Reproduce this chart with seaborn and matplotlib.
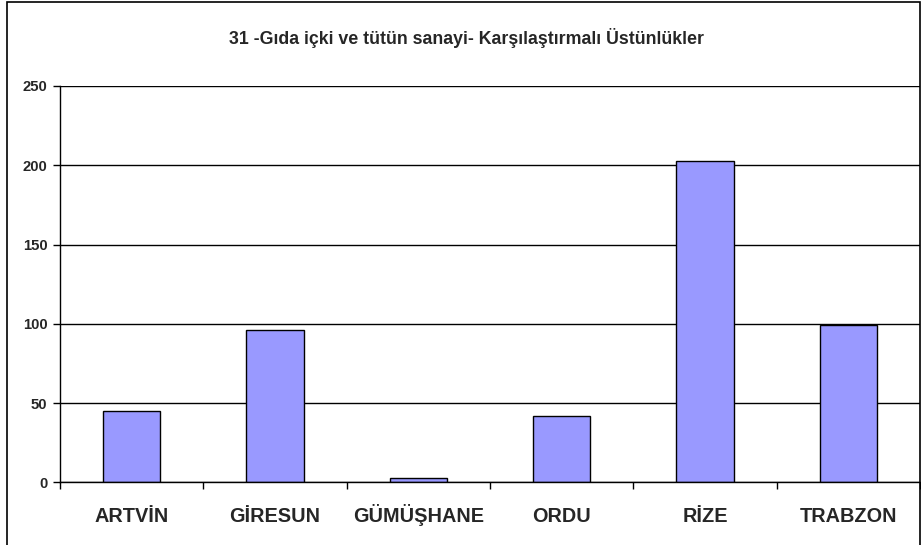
import matplotlib
matplotlib.use("Agg")
import matplotlib.pyplot as plt
import seaborn as sns
import pandas as pd
from matplotlib.patches import Rectangle
from matplotlib.ticker import FixedLocator

categories = ["ARTVİN", "GİRESUN", "GÜMÜŞHANE", "ORDU", "RİZE", "TRABZON"]
values = [45, 96, 3, 42, 203, 99]
y_ticks = [0, 50, 100, 150, 200, 250]
title = "31 -Gıda içki ve tütün sanayi- Karşılaştırmalı Üstünlükler"

df = pd.DataFrame({"il": categories, "deger": values})

sns.set_theme(style="white")
plt.rcParams["font.family"] = ["Liberation Sans", "DejaVu Sans"]

fig = plt.figure(figsize=(9.21, 5.45), dpi=100)
ax = fig.add_axes([60 / 921, 1 - 482.3 / 545, 860 / 921, (482.3 - 86) / 545])

sns.barplot(data=df, x="il", y="deger", color="#9999FF", width=0.4,
            edgecolor="black", linewidth=1.0, saturation=1, ax=ax, zorder=3)

ax.set_ylim(0, 250)
ax.set_xlim(-0.5, len(categories) - 0.5)
ax.set_yticks(y_ticks)
ax.set_yticklabels([str(v) for v in y_ticks], fontsize=10.7, fontweight="bold")
ax.set_xticklabels(categories, fontsize=14.3, fontweight="bold")
for lbl in ax.get_xticklabels():
    lbl.set_verticalalignment("baseline")
ax.xaxis.set_minor_locator(FixedLocator([i - 0.5 for i in range(len(categories) + 1)]))
ax.tick_params(axis="x", which="major", length=0, pad=28.4)
ax.tick_params(axis="x", which="minor", length=5, width=1, color="black", direction="out", bottom=True)
ax.tick_params(axis="y", which="major", length=5, width=1, color="black", direction="out", left=True, pad=4)
ax.set_xlabel("")
ax.set_ylabel("")

ax.grid(axis="y", color="black", linewidth=1.0, zorder=0)
ax.set_axisbelow(True)
for s in ["top", "right"]:
    ax.spines[s].set_visible(False)
for s in ["left", "bottom"]:
    ax.spines[s].set_visible(True)
    ax.spines[s].set_color("black")
    ax.spines[s].set_linewidth(1.0)
ax.spines["bottom"].set_zorder(4)

fig.text(0.507, 1 - 38 / 545, title, ha="center", va="center", fontsize=12.8, fontweight="bold")

fig.patches.append(Rectangle((7 / 921, -0.05), (919.5 - 7) / 921, 1 - 2 / 545 + 0.05,
                             transform=fig.transFigure, fill=False, edgecolor="black",
                             linewidth=1.2, zorder=0))

fig.savefig("out.png", dpi=100)
